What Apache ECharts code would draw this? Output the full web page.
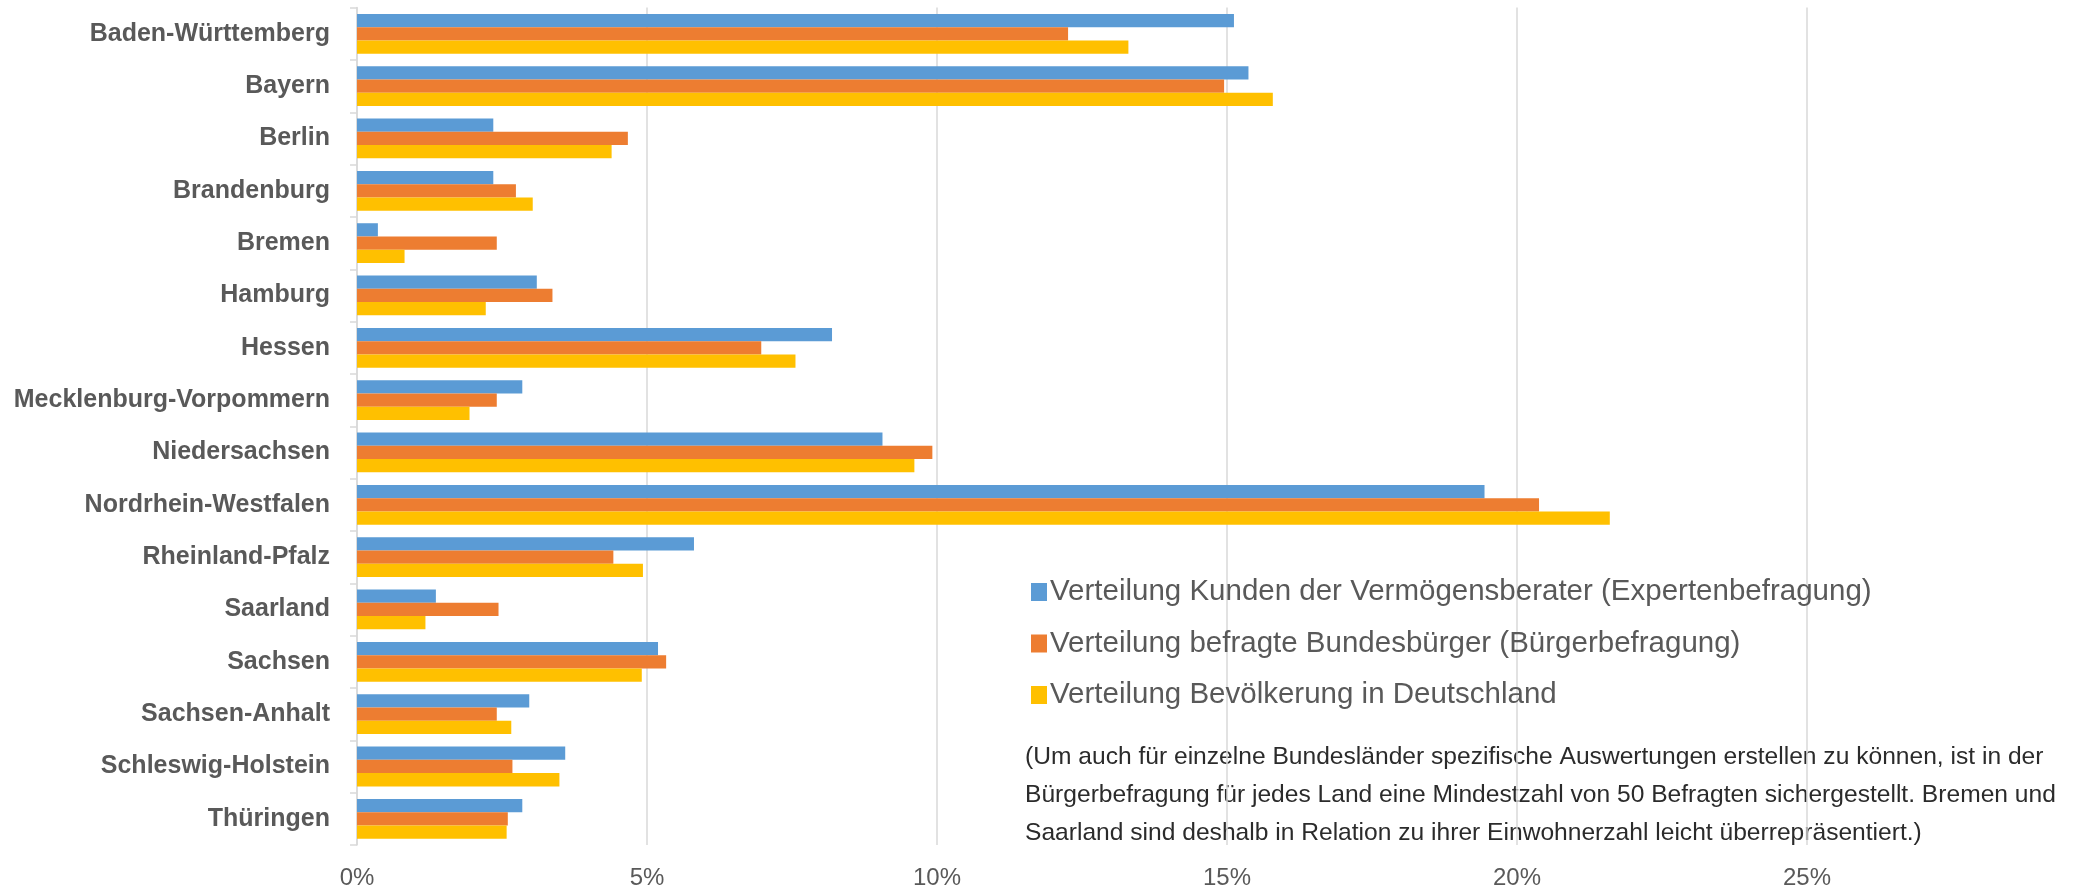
<!DOCTYPE html>
<html>
<head>
<meta charset="utf-8">
<title>Verteilung nach Bundesländern</title>
<script src="https://cdn.jsdelivr.net/npm/echarts@6/dist/echarts.min.js"></script>
<style>
  html, body { margin: 0; padding: 0; background: #fff; }
  #main { width: 2087px; height: 894px; }
</style>
</head>
<body>
<div id="main"></div>
<script>
// Bundesländer (von oben nach unten)
var laender = ['Baden-Württemberg', 'Bayern', 'Berlin', 'Brandenburg', 'Bremen', 'Hamburg', 'Hessen',
    'Mecklenburg-Vorpommern', 'Niedersachsen', 'Nordrhein-Westfalen', 'Rheinland-Pfalz', 'Saarland',
    'Sachsen', 'Sachsen-Anhalt', 'Schleswig-Holstein', 'Thüringen'];

// Werte in Prozent
var kunden = [15.12, 15.37, 2.35, 2.35, 0.36, 3.10, 8.19, 2.85, 9.06, 19.44, 5.81, 1.36, 5.19, 2.97, 3.59, 2.85];
var buerger = [12.26, 14.95, 4.67, 2.74, 2.41, 3.37, 6.97, 2.41, 9.92, 20.38, 4.42, 2.44, 5.33, 2.41, 2.68, 2.60];
var bevoelkerung = [13.30, 15.79, 4.39, 3.03, 0.82, 2.22, 7.56, 1.94, 9.61, 21.60, 4.93, 1.18, 4.91, 2.66, 3.49, 2.58];

var serienNamen = [
    'Verteilung Kunden der Vermögensberater (Expertenbefragung)',
    'Verteilung befragte Bundesbürger (Bürgerbefragung)',
    'Verteilung Bevölkerung in Deutschland'
];
var farben = ['#5B9BD5', '#ED7D31', '#FFC000'];

var hinweis = '(Um auch für einzelne Bundesländer spezifische Auswertungen erstellen zu können, ist in der\n' +
    'Bürgerbefragung für jedes Land eine Mindestzahl von 50 Befragten sichergestellt. Bremen und\n' +
    'Saarland sind deshalb in Relation zu ihrer Einwohnerzahl leicht überrepräsentiert.)';

var schrift = '"Liberation Sans", Arial, sans-serif';

var myChart = echarts.init(document.getElementById('main'));

function serie(i, werte) {
    return {
        name: serienNamen[i],
        type: 'bar',
        data: werte,
        barGap: '0%',
        barCategoryGap: '24%',
        itemStyle: {
            color: farben[i]
        }
    };
}

var option = {
    animation: false,
    textStyle: { fontFamily: schrift },
    grid: {
        left: 357,
        right: -10,
        top: 7.6,
        bottom: 49,
        outerBoundsMode: 'none',
        containLabel: false
    },
    legend: {
        orient: 'vertical',
        left: 1026,
        top: 572,
        itemWidth: 16,
        itemHeight: 18,
        itemGap: 21.5,
        icon: 'rect',
        textStyle: {
            fontFamily: schrift,
            fontSize: 29.5,
            lineHeight: 30,
            color: '#595959',
            padding: [0, 0, 0, -2]
        },
        data: serienNamen
    },
    graphic: [{
        type: 'text',
        left: 1025,
        top: 738,
        style: {
            text: hinweis,
            font: '24.6px ' + schrift,
            lineHeight: 38,
            fill: '#2b2b2b'
        }
    }],
    xAxis: {
        type: 'value',
        min: 0,
        max: 30,
        interval: 5,
        axisLine: { show: false },
        axisTick: { show: false },
        axisLabel: {
            formatter: '{value}%',
            fontSize: 24,
            color: '#595959',
            margin: 21,
            showMaxLabel: false
        },
        splitLine: { lineStyle: { color: '#D9D9D9', width: 1.5 } }
    },
    yAxis: {
        type: 'category',
        data: laender,
        inverse: true,
        axisLine: { lineStyle: { color: '#D9D9D9', width: 1.5 } },
        axisTick: { show: true, length: 7, lineStyle: { color: '#D9D9D9', width: 1.5 } },
        axisLabel: {
            fontSize: 25,
            fontWeight: 'bold',
            color: '#595959',
            margin: 27
        }
    },
    series: [
        serie(0, kunden),
        serie(1, buerger),
        serie(2, bevoelkerung)
    ]
};

myChart.setOption(option);
</script>
</body>
</html>
